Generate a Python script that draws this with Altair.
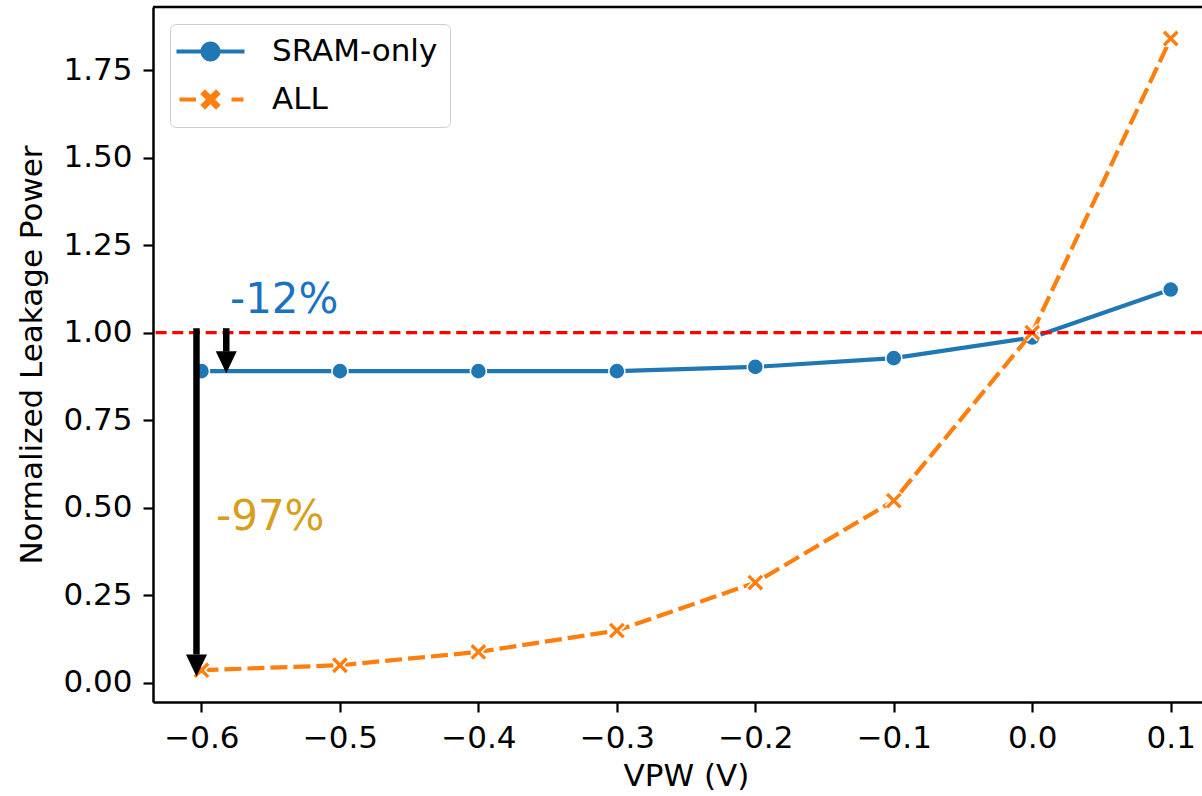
import math
import altair as alt
import pandas as pd

# ---------------- data ----------------
vpw = [-0.6, -0.5, -0.4, -0.3, -0.2, -0.1, 0.0, 0.1]
sram_only = [0.890, 0.890, 0.890, 0.890, 0.902, 0.927, 0.986, 1.123]
all_leak = [0.036, 0.050, 0.088, 0.149, 0.286, 0.520, 1.000, 1.840]
series_names = ["SRAM-only", "ALL"]
x_ticks = [-0.6, -0.5, -0.4, -0.3, -0.2, -0.1, 0.0, 0.1]
y_ticks = [0.0, 0.25, 0.5, 0.75, 1.0, 1.25, 1.5, 1.75]
reference_level = [1.0]

# annotations (data coordinates)
arrow_x = [-0.6036, -0.5821]
arrow_top = [1.0126, 1.0126]
arrow_base = [0.081, 0.946]
arrow_tip = [0.018, 0.884]
label_text = ["-12%", "-97%"]
label_x = [-0.5794, -0.5895]
label_y = [1.056, 0.437]
label_color = ["#1a73c2", "#d6a01e"]

BLUE = "#1f77b4"
ORANGE = "#ff7f0e"
FONT = "DejaVu Sans"

X_DOMAIN = [-0.635, 0.1226]
Y_DOMAIN = [-0.055, 1.93]
W, H = 1049, 695

df = pd.DataFrame({
    "vpw": vpw * 2,
    "value": sram_only + all_leak,
    "series": [series_names[0]] * len(vpw) + [series_names[1]] * len(vpw),
})
df_sram = df[df.series == "SRAM-only"]
df_all = df[df.series == "ALL"]

xs = alt.Scale(domain=X_DOMAIN, nice=False, zero=False)
ys = alt.Scale(domain=Y_DOMAIN, nice=False, zero=False)

x_enc = alt.X("vpw:Q", scale=xs, title="VPW (V)",
              axis=alt.Axis(values=x_ticks, format=".1f", titleX=533))
y_enc = alt.Y("value:Q", scale=ys, title="Normalized Leakage Power",
              axis=alt.Axis(values=y_ticks, format=".2f"))

base_sram = alt.Chart(df_sram)
base_all = alt.Chart(df_all)

line_sram = base_sram.mark_line(color=BLUE, strokeWidth=4.2).encode(x=x_enc, y=y_enc)
pts_sram = base_sram.mark_point(shape="circle", filled=True, fill=BLUE, size=260,
                                stroke="white", strokeWidth=1.5, opacity=1).encode(x=x_enc, y=y_enc)
line_all = base_all.mark_line(color=ORANGE, strokeWidth=4.2, strokeDash=[17, 6]).encode(x=x_enc, y=y_enc)
xpath = "M-1,-1L1,1M-1,1L1,-1"
pts_all_bg = base_all.mark_point(shape=xpath, filled=False, size=180, stroke="white",
                                 strokeWidth=6.5, opacity=1).encode(x=x_enc, y=y_enc)
pts_all = base_all.mark_point(shape=xpath, filled=False, size=180, stroke=ORANGE,
                              strokeWidth=3.4, opacity=1).encode(x=x_enc, y=y_enc)

ref = alt.Chart(pd.DataFrame({"level": reference_level})).mark_rule(
    color="red", strokeWidth=3.2, strokeDash=[11, 5.7]).encode(y=alt.Y("level:Q", scale=ys))

arrows_df = pd.DataFrame({"x": arrow_x, "top": arrow_top, "base": arrow_base, "tip": arrow_tip})
shafts = alt.Chart(arrows_df).mark_rule(color="black", strokeWidth=6.5, strokeCap="butt").encode(
    x=alt.X("x:Q", scale=xs), y=alt.Y("top:Q", scale=ys), y2="base:Q")
heads = alt.Chart(arrows_df).mark_point(shape="M-1,-2.1L1,-2.1L0,0Z", filled=True, fill="black",
                                        size=441, opacity=1, strokeWidth=0).encode(
    x=alt.X("x:Q", scale=xs), y=alt.Y("tip:Q", scale=ys))

labels_df = pd.DataFrame({"t": label_text, "x": label_x, "y": label_y, "c": label_color})
labels = alt.Chart(labels_df).mark_text(font=FONT, fontSize=42, align="left",
                                        baseline="alphabetic").encode(
    x=alt.X("x:Q", scale=xs), y=alt.Y("y:Q", scale=ys), text="t:N",
    color=alt.Color("c:N", scale=None))

# legend symbols (line + marker) as custom paths, unit = 10 px
SH = 1.3  # shift so that the symbol sits to the right


def rect(x0, x1, h):
    return f"M{x0+SH:.3f},{-h:.3f}L{x1+SH:.3f},{-h:.3f}L{x1+SH:.3f},{h:.3f}L{x0+SH:.3f},{h:.3f}Z"


circle = f"M{-1+SH:.3f},0A1,1 0 1,1 {1+SH:.3f},0A1,1 0 1,1 {-1+SH:.3f},0Z"
sram_sym = rect(-3.4, 3.4, 0.2) + circle

w, e = 0.33, 1.12
plus = [(-w, -e), (w, -e), (w, -w), (e, -w), (e, w), (w, w), (w, e), (-w, e), (-w, w), (-e, w), (-e, -w), (-w, -w)]
rot = [((px - py) / math.sqrt(2) + SH, (px + py) / math.sqrt(2)) for px, py in plus]
xmark = "M" + "L".join(f"{a:.3f},{b:.3f}" for a, b in rot) + "Z"
all_sym = rect(-3.1, -1.45, 0.2) + rect(2.1, 3.3, 0.2) + xmark

legend_layer = alt.Chart(df).transform_filter("datum.vpw > 100").mark_point(
    filled=True, size=400, opacity=1).encode(
    x=x_enc, y=y_enc,
    color=alt.Color("series:N", scale=alt.Scale(domain=series_names, range=[BLUE, ORANGE]),
                    title=None,
                    legend=alt.Legend(orient="none", legendX=17, legendY=17, padding=12,
                                      rowPadding=16, labelOffset=59, labelFontSize=31,
                                      labelFont=FONT, labelColor="black", labelLimit=500,
                                      fillColor="white", strokeColor="#cccccc",
                                      cornerRadius=6, symbolStrokeWidth=0, symbolOpacity=1,
                                      symbolSize=400)),
    shape=alt.Shape("series:N", scale=alt.Scale(domain=series_names, range=[sram_sym, all_sym]),
                    title=None),
)

top_spine = alt.Chart(pd.DataFrame({"level": reference_level})).mark_rule(
    color="black", strokeWidth=2.5).encode(y=alt.value(0), x=alt.value(0), x2=alt.value(W))

chart = alt.layer(
    legend_layer, line_sram, pts_sram, line_all, pts_all_bg, pts_all, ref, shafts, heads, labels, top_spine
).properties(
    width=W, height=H,
    autosize=alt.AutoSizeParams(type="none"),
    padding={"left": 153, "top": 7, "right": 0, "bottom": 94},
).configure_view(stroke=None).configure_axis(
    grid=False, domainColor="black", domainWidth=2.5, tickColor="black", tickWidth=2.2,
    tickSize=10, labelFont=FONT, labelFontSize=31, labelColor="black", labelPadding=11,
    titleFont=FONT, titleFontSize=31, titleFontWeight="normal", titleColor="black",
).configure_axisX(titlePadding=8, labelFlush=False).configure_axisY(titlePadding=14, labelFlush=False)

chart.save("out.html", embed_options={"renderer": "svg", "actions": False})
